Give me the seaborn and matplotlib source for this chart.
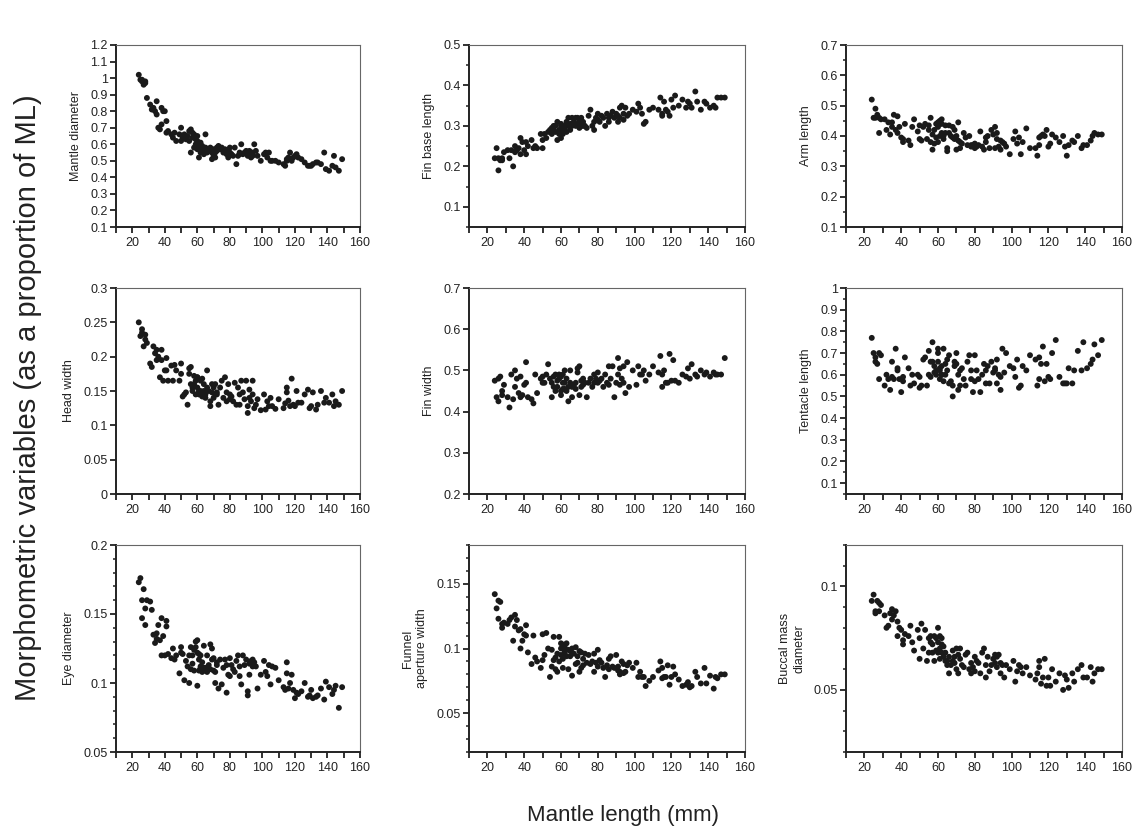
"Morphometric proportions vs mantle length - 3x3 scatter panels"

import numpy as np
import pandas as pd
import matplotlib
matplotlib.use('Agg')
import matplotlib.pyplot as plt
from matplotlib.ticker import MultipleLocator, FuncFormatter
import seaborn as sns

# Mantle length (mm) of each specimen, shared by every panel
ML = [24, 25, 26, 26, 27, 28, 28, 29, 31, 32,
      33, 34, 35, 35, 36, 37, 38, 38, 39, 40,
      41, 41, 42, 44, 45, 46, 47, 49, 50, 50,
      51, 52, 53, 54, 55, 55, 56, 56, 57, 57,
      58, 58, 59, 59, 60, 60, 60, 61, 61, 61,
      62, 62, 62, 63, 63, 64, 64, 65, 65, 66,
      66, 67, 68, 68, 69, 69, 70, 70, 71, 71,
      72, 72, 73, 74, 75, 76, 77, 78, 78, 79,
      80, 80, 81, 82, 83, 84, 85, 86, 86, 87,
      88, 89, 90, 91, 91, 92, 92, 93, 94, 94,
      95, 96, 97, 99, 101, 102, 103, 104, 105, 106,
      108, 110, 113, 114, 115, 115, 116, 117, 118, 119,
      120, 121, 122, 124, 126, 128, 129, 130, 131, 133,
      134, 136, 138, 139, 141, 143, 144, 145, 147, 149]

mantle_diameter = [1.02, 0.99, 0.98, 0.99, 0.96, 0.98, 0.97, 0.88, 0.84, 0.81,
                   0.82, 0.80, 0.86, 0.78, 0.70, 0.69, 0.82, 0.72, 0.80, 0.80,
                   0.67, 0.74, 0.68, 0.66, 0.64, 0.67, 0.62, 0.66, 0.70, 0.62,
                   0.64, 0.66, 0.63, 0.65, 0.62, 0.68, 0.69, 0.55, 0.64, 0.67,
                   0.58, 0.66, 0.63, 0.60, 0.57, 0.62, 0.65, 0.52, 0.59, 0.60,
                   0.58, 0.55, 0.61, 0.57, 0.59, 0.54, 0.56, 0.66, 0.58, 0.57,
                   0.55, 0.56, 0.58, 0.57, 0.51, 0.55, 0.53, 0.57, 0.52, 0.55,
                   0.58, 0.56, 0.59, 0.57, 0.58, 0.55, 0.57, 0.54, 0.56, 0.52,
                   0.55, 0.58, 0.54, 0.53, 0.58, 0.48, 0.53, 0.55, 0.54, 0.60,
                   0.54, 0.55, 0.56, 0.55, 0.53, 0.56, 0.54, 0.52, 0.53, 0.55,
                   0.60, 0.56, 0.53, 0.50, 0.54, 0.55, 0.52, 0.55, 0.50, 0.50,
                   0.50, 0.49, 0.48, 0.47, 0.50, 0.51, 0.52, 0.55, 0.50, 0.52,
                   0.53, 0.54, 0.52, 0.51, 0.49, 0.47, 0.47, 0.47, 0.48, 0.49,
                   0.49, 0.48, 0.55, 0.45, 0.44, 0.47, 0.53, 0.46, 0.44, 0.51]

fin_base_length = [0.22, 0.245, 0.19, 0.22, 0.215, 0.22, 0.215, 0.235, 0.24, 0.22,
                   0.24, 0.20, 0.25, 0.235, 0.24, 0.245, 0.23, 0.27, 0.26, 0.24,
                   0.26, 0.23, 0.25, 0.265, 0.245, 0.25, 0.245, 0.28, 0.245, 0.265,
                   0.28, 0.27, 0.285, 0.29, 0.295, 0.28, 0.30, 0.29, 0.285, 0.30,
                   0.31, 0.265, 0.29, 0.28, 0.30, 0.305, 0.27, 0.285, 0.29, 0.28,
                   0.30, 0.295, 0.29, 0.31, 0.285, 0.32, 0.30, 0.29, 0.305, 0.32,
                   0.30, 0.31, 0.32, 0.30, 0.305, 0.32, 0.31, 0.295, 0.32, 0.30,
                   0.31, 0.30, 0.30, 0.295, 0.325, 0.34, 0.30, 0.29, 0.31, 0.32,
                   0.33, 0.315, 0.31, 0.325, 0.32, 0.30, 0.33, 0.32, 0.31, 0.325,
                   0.335, 0.32, 0.33, 0.325, 0.31, 0.345, 0.32, 0.35, 0.33, 0.315,
                   0.345, 0.325, 0.33, 0.34, 0.335, 0.355, 0.345, 0.33, 0.305, 0.31,
                   0.34, 0.345, 0.34, 0.37, 0.325, 0.33, 0.36, 0.34, 0.335, 0.325,
                   0.365, 0.345, 0.375, 0.35, 0.365, 0.345, 0.36, 0.355, 0.345, 0.385,
                   0.36, 0.34, 0.36, 0.355, 0.345, 0.35, 0.345, 0.37, 0.37, 0.37]

arm_length = [0.52, 0.46, 0.49, 0.46, 0.47, 0.41, 0.46, 0.455, 0.455, 0.42,
              0.445, 0.405, 0.445, 0.43, 0.47, 0.42, 0.41, 0.465, 0.43, 0.395,
              0.39, 0.38, 0.44, 0.385, 0.37, 0.43, 0.455, 0.415, 0.39, 0.435,
              0.385, 0.43, 0.44, 0.39, 0.42, 0.435, 0.46, 0.38, 0.355, 0.405,
              0.42, 0.375, 0.44, 0.395, 0.43, 0.445, 0.38, 0.44, 0.40, 0.45,
              0.41, 0.44, 0.455, 0.40, 0.39, 0.435, 0.41, 0.36, 0.35, 0.435,
              0.41, 0.40, 0.43, 0.395, 0.42, 0.39, 0.355, 0.40, 0.385, 0.445,
              0.38, 0.36, 0.375, 0.41, 0.395, 0.37, 0.40, 0.365, 0.37, 0.37,
              0.36, 0.375, 0.365, 0.37, 0.415, 0.365, 0.355, 0.38, 0.395, 0.40,
              0.36, 0.42, 0.405, 0.43, 0.36, 0.39, 0.41, 0.365, 0.385, 0.355,
              0.38, 0.375, 0.365, 0.34, 0.39, 0.415, 0.375, 0.395, 0.34, 0.38,
              0.425, 0.36, 0.36, 0.335, 0.395, 0.37, 0.40, 0.405, 0.40, 0.42,
              0.365, 0.375, 0.405, 0.395, 0.38, 0.40, 0.365, 0.335, 0.37, 0.385,
              0.38, 0.40, 0.36, 0.37, 0.37, 0.385, 0.40, 0.41, 0.405, 0.405]

head_width = [0.25, 0.23, 0.235, 0.24, 0.215, 0.232, 0.225, 0.22, 0.19, 0.185,
              0.215, 0.205, 0.21, 0.195, 0.20, 0.17, 0.21, 0.195, 0.165, 0.18,
              0.18, 0.198, 0.165, 0.187, 0.165, 0.188, 0.18, 0.165, 0.175, 0.19,
              0.142, 0.145, 0.148, 0.13, 0.183, 0.175, 0.185, 0.16, 0.155, 0.15,
              0.172, 0.16, 0.145, 0.165, 0.17, 0.155, 0.17, 0.145, 0.148, 0.15,
              0.165, 0.145, 0.15, 0.142, 0.168, 0.15, 0.16, 0.14, 0.145, 0.155,
              0.18, 0.15, 0.128, 0.135, 0.16, 0.148, 0.155, 0.14, 0.145, 0.16,
              0.148, 0.145, 0.13, 0.155, 0.165, 0.14, 0.17, 0.135, 0.148, 0.16,
              0.145, 0.138, 0.142, 0.135, 0.162, 0.13, 0.155, 0.13, 0.145, 0.165,
              0.148, 0.138, 0.165, 0.128, 0.118, 0.14, 0.152, 0.135, 0.165, 0.145,
              0.125, 0.13, 0.138, 0.122, 0.145, 0.123, 0.135, 0.128, 0.14, 0.128,
              0.124, 0.138, 0.125, 0.132, 0.155, 0.148, 0.136, 0.128, 0.168, 0.13,
              0.128, 0.15, 0.133, 0.133, 0.145, 0.152, 0.125, 0.128, 0.148, 0.123,
              0.13, 0.15, 0.133, 0.14, 0.133, 0.145, 0.128, 0.135, 0.13, 0.15]

fin_width = [0.475, 0.435, 0.48, 0.425, 0.485, 0.45, 0.44, 0.465, 0.435, 0.41,
             0.49, 0.43, 0.50, 0.46, 0.48, 0.445, 0.435, 0.485, 0.44, 0.465,
             0.52, 0.47, 0.435, 0.43, 0.42, 0.49, 0.445, 0.48, 0.47, 0.485,
             0.47, 0.49, 0.515, 0.48, 0.47, 0.435, 0.46, 0.485, 0.49, 0.45,
             0.46, 0.475, 0.48, 0.49, 0.44, 0.485, 0.45, 0.47, 0.49, 0.455,
             0.50, 0.47, 0.455, 0.45, 0.48, 0.46, 0.425, 0.47, 0.50, 0.435,
             0.46, 0.465, 0.47, 0.455, 0.495, 0.505, 0.51, 0.44, 0.46, 0.475,
             0.465, 0.48, 0.47, 0.435, 0.47, 0.48, 0.46, 0.47, 0.49, 0.48,
             0.495, 0.47, 0.475, 0.48, 0.46, 0.49, 0.47, 0.51, 0.465, 0.48,
             0.51, 0.435, 0.47, 0.53, 0.49, 0.465, 0.505, 0.48, 0.47, 0.51,
             0.445, 0.52, 0.46, 0.50, 0.465, 0.51, 0.49, 0.49, 0.50, 0.475,
             0.49, 0.51, 0.495, 0.535, 0.49, 0.46, 0.50, 0.47, 0.47, 0.54,
             0.475, 0.525, 0.475, 0.47, 0.49, 0.485, 0.505, 0.48, 0.515, 0.49,
             0.485, 0.50, 0.49, 0.495, 0.485, 0.495, 0.49, 0.49, 0.49, 0.53]

tentacle_length = [0.77, 0.70, 0.66, 0.68, 0.65, 0.58, 0.70, 0.69, 0.55, 0.60,
                   0.58, 0.53, 0.66, 0.59, 0.58, 0.72, 0.62, 0.63, 0.58, 0.52,
                   0.59, 0.57, 0.68, 0.63, 0.55, 0.60, 0.56, 0.60, 0.59, 0.54,
                   0.55, 0.67, 0.68, 0.55, 0.60, 0.71, 0.66, 0.59, 0.66, 0.75,
                   0.61, 0.64, 0.62, 0.60, 0.66, 0.72, 0.70, 0.58, 0.63, 0.62,
                   0.64, 0.60, 0.60, 0.57, 0.72, 0.65, 0.60, 0.62, 0.67, 0.56,
                   0.69, 0.57, 0.55, 0.50, 0.64, 0.66, 0.65, 0.70, 0.60, 0.53,
                   0.62, 0.55, 0.63, 0.58, 0.55, 0.66, 0.69, 0.62, 0.58, 0.52,
                   0.57, 0.69, 0.62, 0.58, 0.52, 0.60, 0.65, 0.56, 0.62, 0.64,
                   0.56, 0.66, 0.61, 0.62, 0.63, 0.67, 0.56, 0.60, 0.59, 0.53,
                   0.72, 0.61, 0.70, 0.64, 0.63, 0.59, 0.67, 0.54, 0.55, 0.64,
                   0.62, 0.69, 0.67, 0.55, 0.68, 0.58, 0.65, 0.73, 0.57, 0.65,
                   0.59, 0.58, 0.70, 0.76, 0.59, 0.56, 0.56, 0.56, 0.63, 0.56,
                   0.62, 0.71, 0.62, 0.75, 0.63, 0.65, 0.67, 0.74, 0.69, 0.76]

eye_diameter = [0.173, 0.176, 0.160, 0.147, 0.168, 0.142, 0.154, 0.160, 0.159, 0.153,
                0.135, 0.129, 0.136, 0.132, 0.142, 0.131, 0.120, 0.147, 0.134, 0.120,
                0.145, 0.141, 0.121, 0.118, 0.125, 0.117, 0.120, 0.107, 0.126, 0.122,
                0.121, 0.102, 0.116, 0.112, 0.100, 0.120, 0.126, 0.110, 0.120, 0.114,
                0.109, 0.124, 0.130, 0.126, 0.098, 0.122, 0.131, 0.109, 0.117, 0.121,
                0.111, 0.120, 0.112, 0.108, 0.115, 0.111, 0.127, 0.109, 0.111, 0.120,
                0.108, 0.113, 0.128, 0.110, 0.117, 0.125, 0.118, 0.109, 0.100, 0.108,
                0.115, 0.113, 0.096, 0.117, 0.099, 0.111, 0.117, 0.093, 0.113, 0.106,
                0.105, 0.118, 0.113, 0.110, 0.108, 0.116, 0.120, 0.112, 0.105, 0.099,
                0.120, 0.113, 0.117, 0.091, 0.094, 0.106, 0.114, 0.116, 0.112, 0.117,
                0.115, 0.112, 0.096, 0.106, 0.116, 0.108, 0.105, 0.113, 0.099, 0.112,
                0.111, 0.102, 0.097, 0.095, 0.107, 0.115, 0.096, 0.100, 0.106, 0.095,
                0.089, 0.093, 0.092, 0.094, 0.100, 0.090, 0.091, 0.095, 0.089, 0.090,
                0.091, 0.096, 0.088, 0.101, 0.097, 0.092, 0.095, 0.098, 0.082, 0.097]

funnel_aperture = [0.142, 0.131, 0.137, 0.123, 0.136, 0.116, 0.119, 0.120, 0.119, 0.122,
                   0.124, 0.106, 0.126, 0.117, 0.122, 0.114, 0.100, 0.115, 0.106, 0.111,
                   0.118, 0.110, 0.097, 0.088, 0.110, 0.093, 0.090, 0.085, 0.111, 0.091,
                   0.095, 0.112, 0.100, 0.078, 0.099, 0.086, 0.109, 0.091, 0.084, 0.093,
                   0.082, 0.096, 0.090, 0.109, 0.100, 0.104, 0.095, 0.092, 0.085, 0.103,
                   0.101, 0.098, 0.096, 0.104, 0.094, 0.099, 0.084, 0.098, 0.094, 0.100,
                   0.079, 0.096, 0.101, 0.088, 0.094, 0.089, 0.098, 0.082, 0.085, 0.097,
                   0.092, 0.087, 0.096, 0.089, 0.095, 0.088, 0.090, 0.096, 0.082, 0.089,
                   0.099, 0.086, 0.091, 0.089, 0.085, 0.078, 0.087, 0.092, 0.084, 0.094,
                   0.086, 0.085, 0.095, 0.083, 0.086, 0.080, 0.082, 0.090, 0.088, 0.081,
                   0.082, 0.087, 0.089, 0.085, 0.089, 0.078, 0.082, 0.078, 0.078, 0.071,
                   0.075, 0.078, 0.083, 0.090, 0.085, 0.077, 0.078, 0.078, 0.087, 0.072,
                   0.078, 0.086, 0.080, 0.076, 0.071, 0.072, 0.074, 0.070, 0.071, 0.082,
                   0.078, 0.073, 0.085, 0.073, 0.079, 0.069, 0.078, 0.077, 0.080, 0.080]

buccal_mass = [0.093, 0.096, 0.087, 0.088, 0.093, 0.092, 0.088, 0.091, 0.086, 0.080,
               0.081, 0.087, 0.084, 0.089, 0.086, 0.088, 0.083, 0.076, 0.080, 0.079,
               0.072, 0.074, 0.077, 0.076, 0.081, 0.073, 0.069, 0.079, 0.075, 0.065,
               0.082, 0.070, 0.079, 0.064, 0.075, 0.068, 0.073, 0.076, 0.068, 0.072,
               0.076, 0.064, 0.069, 0.075, 0.080, 0.068, 0.073, 0.076, 0.070, 0.065,
               0.072, 0.075, 0.068, 0.071, 0.066, 0.064, 0.068, 0.062, 0.064, 0.066,
               0.058, 0.062, 0.069, 0.064, 0.066, 0.063, 0.060, 0.070, 0.067, 0.058,
               0.065, 0.070, 0.062, 0.061, 0.067, 0.068, 0.060, 0.058, 0.063, 0.061,
               0.066, 0.059, 0.064, 0.063, 0.058, 0.068, 0.070, 0.056, 0.062, 0.066,
               0.059, 0.062, 0.065, 0.067, 0.063, 0.061, 0.066, 0.067, 0.063, 0.058,
               0.062, 0.056, 0.062, 0.060, 0.064, 0.054, 0.059, 0.062, 0.061, 0.058,
               0.061, 0.057, 0.055, 0.058, 0.064, 0.061, 0.053, 0.056, 0.065, 0.052,
               0.056, 0.052, 0.060, 0.054, 0.058, 0.050, 0.057, 0.055, 0.051, 0.058,
               0.054, 0.060, 0.062, 0.056, 0.056, 0.061, 0.054, 0.058, 0.060, 0.060]

labels = ['Mantle diameter', 'Fin base length', 'Arm length',
          'Head width', 'Fin width', 'Tentacle length',
          'Eye diameter', 'Funnel\naperture width', 'Buccal mass\ndiameter']
series = [mantle_diameter, fin_base_length, arm_length,
          head_width, fin_width, tentacle_length,
          eye_diameter, funnel_aperture, buccal_mass]
# (ymin, ymax, major step, minor step or None)
y_axes = [(0.1, 1.2, 0.1, None), (0.05, 0.5, 0.1, 0.05), (0.1, 0.7, 0.1, 0.05),
          (0.0, 0.3, 0.05, None), (0.2, 0.7, 0.1, None), (0.05, 1.0, 0.1, 0.05),
          (0.05, 0.2, 0.05, 0.01), (0.02, 0.18, 0.05, 0.01), (0.02, 0.12, 0.05, 0.01)]

sns.set_style('ticks')
plt.rcParams['font.family'] = ['Liberation Sans', 'DejaVu Sans']

fig = plt.figure(figsize=(11.32, 8.38), dpi=100)

W = 1132.0
H = 838.0
col_left = [116, 469, 846]
col_width = [244, 276, 276]
row_top = [45, 288, 545]
row_bottom = [227, 494, 752]

for i in range(9):
    r, c = divmod(i, 3)
    ax = fig.add_axes([col_left[c] / W, 1 - row_bottom[r] / H,
                       col_width[c] / W, (row_bottom[r] - row_top[r]) / H])
    df = pd.DataFrame({'ML': ML, 'val': series[i]})
    sns.scatterplot(data=df, x='ML', y='val', ax=ax, color='#1a1a1a',
                    s=18, edgecolor='none', linewidth=0)
    ymin, ymax, step, minor = y_axes[i]
    ax.set_xlim(10, 160)
    ax.set_ylim(ymin, ymax)
    ax.xaxis.set_major_locator(MultipleLocator(20))
    ax.xaxis.set_minor_locator(MultipleLocator(10))
    ax.yaxis.set_major_locator(MultipleLocator(step))
    if minor:
        ax.yaxis.set_minor_locator(MultipleLocator(minor))
    ax.yaxis.set_major_formatter(FuncFormatter(lambda v, p: '%g' % round(v, 3)))
    ax.tick_params(which='both', bottom=True, left=True, top=False, right=False)
    ax.tick_params(axis='both', which='major', direction='out', length=4,
                   width=1.3, labelsize=9, color='#222222', labelcolor='#222222', pad=2)
    ax.tick_params(axis='x', which='minor', direction='out', length=4,
                   width=1.3, color='#222222')
    ax.tick_params(axis='y', which='minor', direction='out', length=2.5,
                   width=1.1, color='#222222')
    ax.tick_params(axis='x', pad=3)
    for side in ['left', 'bottom']:
        ax.spines[side].set_visible(True)
        ax.spines[side].set_color('#222222')
        ax.spines[side].set_linewidth(1.4)
    for side in ['top', 'right']:
        ax.spines[side].set_visible(True)
        ax.spines[side].set_color('#666666')
        ax.spines[side].set_linewidth(0.8)
    ax.set_xlabel('')
    ax.set_ylabel(labels[i], fontsize=9, labelpad=6, multialignment='center',
                  color='#222222')

fig.text(0.025, 0.526, 'Morphometric variables (as a proportion of ML)',
         rotation=90, ha='center', va='center', fontsize=21, color='#222222')
fig.text(0.55, 0.027, 'Mantle length (mm)', ha='center', va='center',
         fontsize=16, color='#222222')

fig.savefig('out.png', dpi=100)
